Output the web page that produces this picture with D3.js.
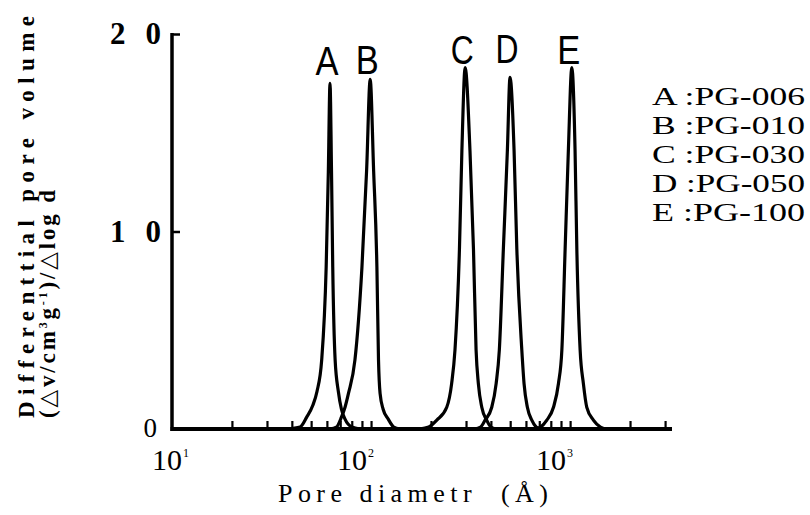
<!DOCTYPE html>
<html>
<head>
<meta charset="utf-8">
<script src="https://cdn.jsdelivr.net/npm/d3@7"></script>
<style>
  body { margin: 0; background: #fff; }
  svg { display: block; }
</style>
</head>
<body>
<svg id="chart" width="810" height="515"></svg>
<script>
// pore diameter (A) vs differential pore volume
var peakNames = ['A', 'B', 'C', 'D', 'E'];
var legendLabels = ['A :PG-006', 'B :PG-010', 'C :PG-030', 'D :PG-050', 'E :PG-100'];

var curveA = [[38,0],[44,0.1],[47.5,0.6],[51,1.2],[53.5,1.9],[56.5,3.5],[59.5,8.2],[61,13],[62.2,17.5],[63.3,13],[64.2,8.2],[66,3.5],[68.5,1.9],[71,1.0],[74,0.5],[80,0.1],[88,0]];
var curveB = [[62,0],[67,0.1],[71,0.6],[74,1.1],[77,1.8],[83,3.5],[90,8.2],[95,13.1],[99,17.7],[103,13.1],[107,8.2],[109,3.5],[111,1.8],[115,1.0],[122,0.5],[130,0.1],[140,0]];
var curveC = [[175,0],[195,0.1],[214,0.45],[240,1.1],[254,2.3],[264,4.0],[278,9.1],[286,14.1],[297,18.3],[314,14.1],[327,9.1],[337,4.0],[346,2.3],[360,1.1],[381,0.45],[400,0.1],[425,0]];
var curveD = [[330,0],[355,0.1],[374,0.45],[404,1.1],[425,2.3],[441,4.0],[462,9.1],[484,14.1],[499,17.8],[523,14.1],[540,9.1],[572,4.0],[587,2.3],[610,1.1],[642,0.45],[675,0.1],[710,0]];
var curveE = [[660,0],[710,0.1],[764,0.45],[825,1.1],[874,2.3],[909,4.0],[944,9.1],[980,14.1],[1020,18.3],[1059,14.1],[1081,9.1],[1123,4.0],[1166,2.3],[1213,1.1],[1309,0.45],[1420,0.1],[1520,0]];
var curves = [curveA, curveB, curveC, curveD, curveE];

var xDecades = [10, 100, 1000];
var xMinor = [20,30,40,50,60,70,80,90,200,300,400,500,600,700,800,900,2000,3000];
var yTicks = [0, 10, 20];
var yTickLabels = ['0', '1 0', '2 0'];

var svg = d3.select('#chart');
svg.append('rect').attr('width', 810).attr('height', 515).attr('fill', '#fff');

var x = d3.scaleLog().domain([10, 3250]).range([172, 672]);
var y = d3.scaleLinear().domain([0, 20]).range([429, 34]);

var serif = '"Liberation Serif", "DejaVu Serif", serif';
var sans = '"Liberation Sans", Arial, sans-serif';

// curves
var line = d3.line()
	.x(function(d){ return x(d[0]); })
	.y(function(d){ return y(d[1]); })
	.curve(d3.curveMonotoneX);

svg.append('g').selectAll('path')
	.data(curves)
	.enter().append('path')
		.attr('d', line)
		.attr('fill', 'none')
		.attr('stroke', '#000')
		.attr('stroke-width', 3.2)
		.attr('stroke-linejoin', 'round');

// x axis: ticks point up into the plot
var xAxis = d3.axisTop(x)
	.tickValues(xMinor.concat(xDecades.slice(1)))
	.tickSize(8)
	.tickFormat('');
var gx = svg.append('g').attr('transform', 'translate(0,429)').call(xAxis);
gx.select('.domain').remove();
gx.selectAll('.tick line').attr('stroke', '#000').attr('stroke-width', 2.2);
svg.append('line')
	.attr('x1', x(10) - 1.5).attr('x2', 672)
	.attr('y1', 429).attr('y2', 429)
	.attr('stroke', '#000').attr('stroke-width', 4);

// y axis: ticks point right
var yAxis = d3.axisRight(y).tickValues([10, 20]).tickSize(8).tickFormat('');
var gy = svg.append('g').attr('transform', 'translate(172,0)').call(yAxis);
gy.select('.domain').remove();
gy.selectAll('.tick line').attr('stroke', '#000').attr('stroke-width', 2.5);
svg.append('line')
	.attr('x1', 172).attr('x2', 172)
	.attr('y1', y(20) - 1).attr('y2', 431)
	.attr('stroke', '#000').attr('stroke-width', 3.5);

// y tick labels
svg.append('g').selectAll('text')
	.data(yTicks)
	.enter().append('text')
		.attr('x', function(d){ return d === 0 ? 157 : 161; })
		.attr('y', function(d){ return y(d) + (d === 0 ? 8 : 10); })
		.attr('text-anchor', 'end')
		.attr('font-family', serif)
		.attr('font-weight', function(d){ return d === 0 ? 'normal' : 'bold'; })
		.attr('font-size', function(d){ return d === 0 ? 27 : 31; })
		.attr('xml:space', 'preserve')
		.attr('textLength', function(d){ return d === 0 ? null : 51; })
		.attr('lengthAdjust', 'spacing')
		.text(function(d, i){ return yTickLabels[i]; });

// x tick labels 10^n (the printed labels sit a little left of their ticks)
var xl = svg.append('g').selectAll('text')
	.data(xDecades)
	.enter().append('text')
		.attr('x', function(d){ return Math.max(152, x(d) - 34); })
		.attr('y', 470)
		.attr('font-family', serif)
		.attr('font-size', 30);
xl.append('tspan').text('10');
xl.append('tspan')
	.attr('dx', 1)
	.attr('dy', -13)
	.attr('font-size', 12)
	.text(function(d){ return Math.round(Math.log10(d)); });

// axis titles
svg.append('text')
	.attr('x', 278).attr('y', 502)
	.attr('font-family', serif)
	.attr('font-size', 26)
	.attr('textLength', 270).attr('lengthAdjust', 'spacing')
	.attr('xml:space', 'preserve')
	.text('Pore diametr  (\u00c5)');

svg.append('text')
	.attr('transform', 'translate(34,418) rotate(-90)')
	.attr('font-family', serif)
	.attr('font-weight', 'bold')
	.attr('font-size', 23)
	.attr('textLength', 402).attr('lengthAdjust', 'spacing')
	.text('Differenttial pore volume');

var t2 = svg.append('text')
	.attr('transform', 'translate(55,418) rotate(-90)')
	.attr('font-family', serif)
	.attr('font-weight', 'bold')
	.attr('font-size', 23)
	.attr('textLength', 228).attr('lengthAdjust', 'spacing');
t2.append('tspan').text('(\u25b3v/cm');
t2.append('tspan').attr('dy', -8).attr('font-size', 12).text('3');
t2.append('tspan').attr('dy', 8).text('g');
t2.append('tspan').attr('dy', -8).attr('font-size', 12).text('-1');
t2.append('tspan').attr('dy', 8).text(')/\u25b3log d');

// peak letters
var labelLift = [8, 5, 4, 14, 4];
svg.append('g').selectAll('text')
	.data(curves)
	.enter().append('text')
		.attr('x', function(d){
			var top = d3.greatest(d, function(p){ return p[1]; });
			return x(top[0]) - 3;
		})
		.attr('y', function(d, i){
			var top = d3.greatest(d, function(p){ return p[1]; });
			return y(top[1]) - labelLift[i];
		})
		.attr('text-anchor', 'middle')
		.attr('font-family', sans)
		.attr('font-size', 40)
		.attr('textLength', 23).attr('lengthAdjust', 'spacingAndGlyphs')
		.text(function(d, i){ return peakNames[i]; });

// legend
svg.append('g').selectAll('text')
	.data(legendLabels)
	.enter().append('text')
		.attr('x', 652)
		.attr('y', function(d, i){ return 105 + i * 29; })
		.attr('font-family', serif)
		.attr('font-size', 26)
		.attr('textLength', 153).attr('lengthAdjust', 'spacingAndGlyphs')
		.text(function(d){ return d; });
</script>
</body>
</html>
